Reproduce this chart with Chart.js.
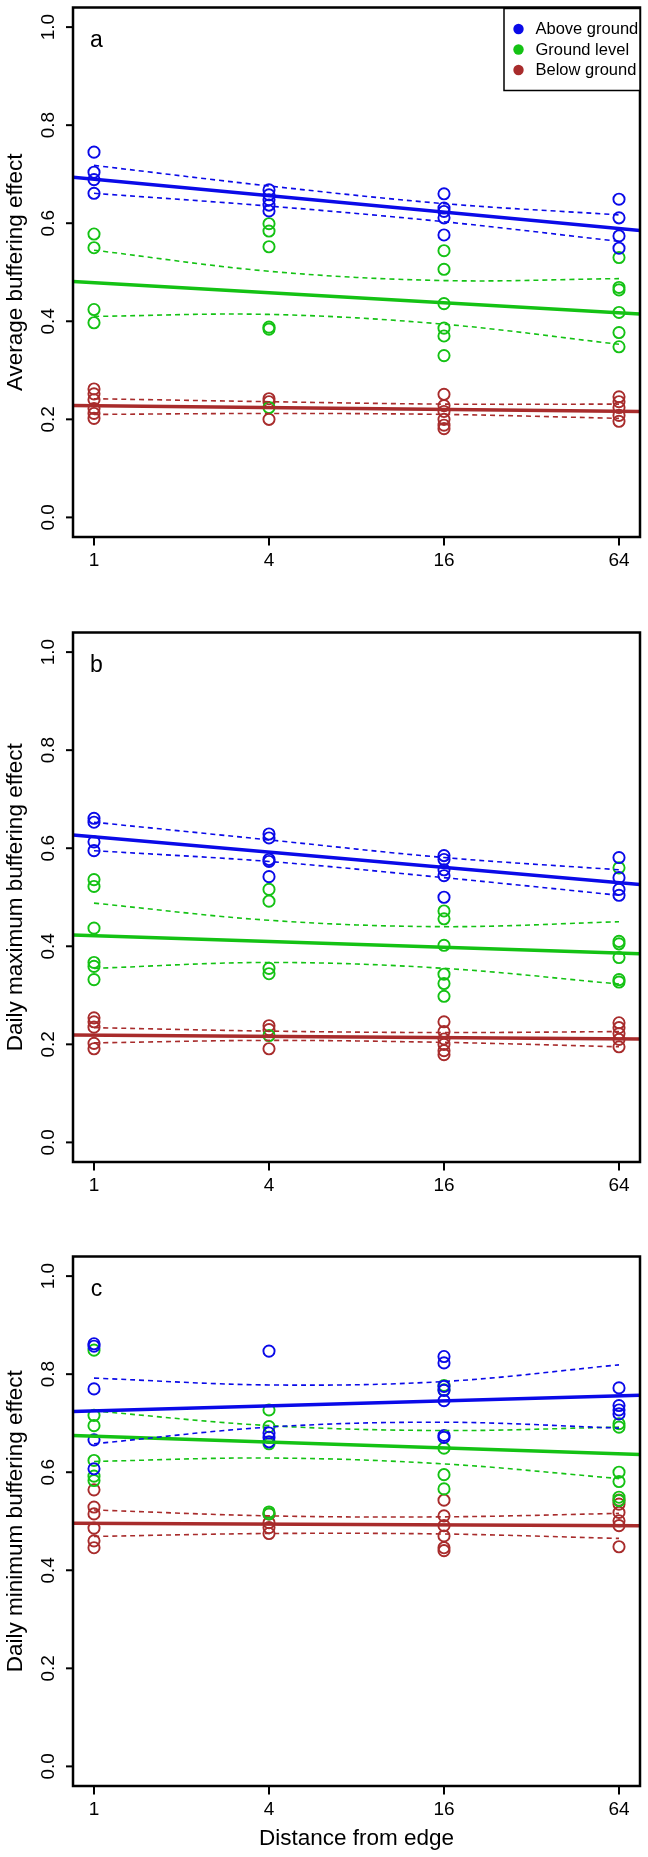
<!DOCTYPE html>
<html>
<head>
<meta charset="utf-8">
<script src="https://cdn.jsdelivr.net/npm/chart.js@4"></script>
<style>
  html, body { margin: 0; padding: 0; background: #ffffff; }
  body { width: 648px; height: 1857px; position: relative; overflow: hidden; }
  canvas { position: absolute; left: 0; }
</style>
</head>
<body>
<canvas id="pa" width="648" height="625" style="top:0px"></canvas>
<canvas id="pb" width="648" height="624" style="top:625px"></canvas>
<canvas id="pc" width="648" height="608" style="top:1249px"></canvas>
<script>
// ---------------- DATA ----------------
const distances = [1, 4, 16, 64];
const xTickLabels = ['1', '4', '16', '64'];
const yTicks = [0.0, 0.2, 0.4, 0.6, 0.8, 1.0];
const yTickLabels = ['0.0', '0.2', '0.4', '0.6', '0.8', '1.0'];
const seriesNames = ['Above ground', 'Ground level', 'Below ground'];

// Panel a: Average buffering effect (observations per distance)
const avgAbove = [[0.745, 0.704, 0.689, 0.661], [0.668, 0.658, 0.648, 0.637, 0.625], [0.660, 0.631, 0.624, 0.611, 0.576], [0.649, 0.611, 0.574, 0.549]];
const avgGround = [[0.578, 0.550, 0.424, 0.397], [0.599, 0.584, 0.552, 0.388, 0.384, 0.224], [0.544, 0.506, 0.436, 0.386, 0.370, 0.330], [0.530, 0.469, 0.464, 0.418, 0.377, 0.348]];
const avgBelow = [[0.262, 0.252, 0.240, 0.222, 0.212, 0.202], [0.242, 0.236, 0.200], [0.251, 0.228, 0.216, 0.200, 0.188, 0.181], [0.246, 0.236, 0.224, 0.208, 0.196]];
// fitted line values at the left and right plot limits
const avgFitAbove = [0.694, 0.585];
const avgFitGround = [0.481, 0.415];
const avgFitBelow = [0.228, 0.216];
// confidence bands at the four distances
const avgUpAbove = [0.718, 0.676, 0.640, 0.617];
const avgLoAbove = [0.661, 0.635, 0.603, 0.563];
const avgUpGround = [0.545, 0.502, 0.483, 0.487];
const avgLoGround = [0.410, 0.414, 0.394, 0.353];
const avgUpBelow = [0.242, 0.236, 0.231, 0.231];
const avgLoBelow = [0.210, 0.212, 0.210, 0.202];

// Panel b: Daily maximum buffering effect
const maxAbove = [[0.661, 0.653, 0.613, 0.595], [0.629, 0.621, 0.577, 0.573, 0.542], [0.585, 0.577, 0.556, 0.544, 0.500], [0.581, 0.540, 0.516, 0.504]];
const maxGround = [[0.536, 0.522, 0.437, 0.367, 0.359, 0.332], [0.516, 0.492, 0.355, 0.344, 0.218], [0.472, 0.456, 0.402, 0.343, 0.324, 0.298], [0.560, 0.410, 0.405, 0.377, 0.332, 0.327]];
const maxBelow = [[0.254, 0.246, 0.235, 0.202, 0.191], [0.238, 0.230, 0.191], [0.246, 0.226, 0.211, 0.200, 0.187, 0.179], [0.244, 0.234, 0.222, 0.210, 0.195]];
const maxFitAbove = [0.627, 0.526];
const maxFitGround = [0.423, 0.385];
const maxFitBelow = [0.219, 0.211];
const maxUpAbove = [0.653, 0.617, 0.581, 0.556];
const maxLoAbove = [0.595, 0.573, 0.540, 0.504];
const maxUpGround = [0.488, 0.453, 0.440, 0.450];
const maxLoGround = [0.355, 0.367, 0.355, 0.323];
const maxUpBelow = [0.234, 0.227, 0.224, 0.226];
const maxLoBelow = [0.203, 0.208, 0.204, 0.195];

// Panel c: Daily minimum buffering effect
const minAbove = [[0.862, 0.857, 0.770, 0.666, 0.607], [0.847, 0.680, 0.671, 0.662], [0.836, 0.823, 0.775, 0.767, 0.746, 0.675, 0.671], [0.772, 0.736, 0.727, 0.719]];
const minGround = [[0.849, 0.716, 0.695, 0.624, 0.592, 0.583], [0.727, 0.693, 0.658, 0.519, 0.515], [0.777, 0.768, 0.649, 0.595, 0.566], [0.699, 0.692, 0.600, 0.581, 0.549, 0.542]];
const minBelow = [[0.564, 0.529, 0.515, 0.486, 0.460, 0.446], [0.515, 0.497, 0.487, 0.475], [0.543, 0.511, 0.491, 0.470, 0.446, 0.440], [0.543, 0.535, 0.518, 0.501, 0.491, 0.448]];
const minFitAbove = [0.724, 0.757];
const minFitGround = [0.675, 0.636];
const minFitBelow = [0.496, 0.491];
const minUpAbove = [0.792, 0.778, 0.785, 0.819];
const minLoAbove = [0.658, 0.692, 0.702, 0.690];
const minUpGround = [0.725, 0.695, 0.685, 0.692];
const minLoGround = [0.622, 0.629, 0.617, 0.587];
const minUpBelow = [0.523, 0.511, 0.509, 0.516];
const minLoBelow = [0.469, 0.475, 0.474, 0.465];

// ---------------- STYLE ----------------
const COLORS = ['#0a0ae8', '#14c214', '#a82c2c'];
const FONT = '"Liberation Sans", Arial, Helvetica, sans-serif';
const X_MIN = Math.pow(2, -0.24);
const X_MAX = Math.pow(2, 6.24);
const Y_MIN = -0.04, Y_MAX = 1.04;

function rPlotPlugin(opts) {
  return {
    id: 'rplot_' + opts.letter,
    afterDraw(chart) {
      const { ctx, chartArea: ca, scales } = chart;
      const xs = scales.x, ys = scales.y;
      ctx.save();
      ctx.fillStyle = '#000';
      ctx.strokeStyle = '#000';
      // frame
      ctx.lineWidth = 2.5;
      ctx.strokeRect(ca.left, ca.top, ca.right - ca.left, ca.bottom - ca.top);
      // y ticks
      ctx.lineWidth = 2;
      ctx.font = '19px ' + FONT;
      yTicks.forEach((v, i) => {
        const py = ys.getPixelForValue(v);
        ctx.beginPath(); ctx.moveTo(ca.left - 7, py); ctx.lineTo(ca.left, py); ctx.stroke();
        ctx.save();
        ctx.translate(ca.left - 19.5, py);
        ctx.rotate(-Math.PI / 2);
        ctx.textAlign = 'center'; ctx.textBaseline = 'alphabetic';
        ctx.fillText(yTickLabels[i], 0, 0);
        ctx.restore();
      });
      // x ticks
      distances.forEach((d, i) => {
        const px = xs.getPixelForValue(d);
        ctx.beginPath(); ctx.moveTo(px, ca.bottom); ctx.lineTo(px, ca.bottom + 8.5); ctx.stroke();
        ctx.textAlign = 'center'; ctx.textBaseline = 'alphabetic';
        ctx.fillText(xTickLabels[i], px, ca.bottom + 29);
      });
      // y title
      ctx.font = '22.5px ' + FONT;
      ctx.save();
      ctx.translate(ca.left - 51, (ca.top + ca.bottom) / 2);
      ctx.rotate(-Math.PI / 2);
      ctx.textAlign = 'center'; ctx.textBaseline = 'alphabetic';
      ctx.fillText(opts.ytitle, 0, 0);
      ctx.restore();
      // x title
      if (opts.xtitle) {
        ctx.textAlign = 'center'; ctx.textBaseline = 'alphabetic';
        ctx.fillText(opts.xtitle, (ca.left + ca.right) / 2, ca.bottom + 58.5);
      }
      // panel letter
      ctx.font = '23px ' + FONT;
      ctx.textAlign = 'center'; ctx.textBaseline = 'alphabetic';
      ctx.fillText(opts.letter, ca.left + 23.5, ca.top + 39.5);
      // legend
      if (opts.legend) {
        const lw = 136, lh = 82;
        const lx = ca.right - lw, ly = ca.top + 1;
        ctx.fillStyle = '#fff';
        ctx.fillRect(lx, ly, lw, lh);
        ctx.lineWidth = 1.5;
        ctx.strokeStyle = '#000';
        ctx.strokeRect(lx, ly, lw, lh);
        ctx.font = '16.5px ' + FONT;
        ctx.textAlign = 'left'; ctx.textBaseline = 'middle';
        seriesNames.forEach((nm, i) => {
          const cy = ly + 20.5 + i * 20.5;
          ctx.fillStyle = COLORS[i];
          ctx.beginPath(); ctx.arc(lx + 14.5, cy, 5.2, 0, Math.PI * 2); ctx.fill();
          ctx.fillStyle = '#000';
          ctx.fillText(nm, lx + 31.5, cy + 0.5);
        });
      }
      ctx.restore();
    }
  };
}

function makePanel(id, opts, canvasH) {
  const datasets = [];
  opts.series.forEach((s, si) => {
    const color = COLORS[si];
    datasets.push({
      label: seriesNames[si] + ' fit',
      data: [{ x: X_MIN, y: s.fit[0] }, { x: X_MAX, y: s.fit[1] }],
      showLine: true, borderColor: color, borderWidth: 3.5, pointRadius: 0,
      order: 1 + si
    });
    [s.up, s.lo].forEach((band, bi) => {
      datasets.push({
        label: seriesNames[si] + (bi ? ' lower' : ' upper'),
        data: distances.map((d, i) => ({ x: d, y: band[i] })),
        showLine: true, borderColor: color, borderWidth: 1.6, borderDash: [5, 4],
        pointRadius: 0, tension: 0.35, order: 1 + si
      });
    });
    datasets.push({
      label: seriesNames[si],
      data: distances.flatMap((d, i) => s.pts[i].map(v => ({ x: d, y: v }))),
      showLine: false, borderColor: color, backgroundColor: 'rgba(0,0,0,0)',
      pointRadius: 5.6, pointBorderWidth: 1.9, pointStyle: 'circle',
      order: 10 + si
    });
  });
  new Chart(document.getElementById(id), {
    type: 'scatter',
    data: { datasets },
    options: {
      responsive: false, animation: false, events: [], devicePixelRatio: 1,
      layout: { padding: { left: 73, right: 8, top: 7, bottom: canvasH - 537 } },
      scales: {
        x: { type: 'logarithmic', min: X_MIN, max: X_MAX, display: false },
        y: { type: 'linear', min: Y_MIN, max: Y_MAX, display: false }
      },
      plugins: { legend: { display: false }, tooltip: { enabled: false } }
    },
    plugins: [rPlotPlugin(opts)]
  });
}

makePanel('pa', {
  letter: 'a', ytitle: 'Average buffering effect', legend: true,
  series: [
    { pts: avgAbove, fit: avgFitAbove, up: avgUpAbove, lo: avgLoAbove },
    { pts: avgGround, fit: avgFitGround, up: avgUpGround, lo: avgLoGround },
    { pts: avgBelow, fit: avgFitBelow, up: avgUpBelow, lo: avgLoBelow }
  ]
}, 625);

makePanel('pb', {
  letter: 'b', ytitle: 'Daily maximum buffering effect',
  series: [
    { pts: maxAbove, fit: maxFitAbove, up: maxUpAbove, lo: maxLoAbove },
    { pts: maxGround, fit: maxFitGround, up: maxUpGround, lo: maxLoGround },
    { pts: maxBelow, fit: maxFitBelow, up: maxUpBelow, lo: maxLoBelow }
  ]
}, 624);

makePanel('pc', {
  letter: 'c', ytitle: 'Daily minimum buffering effect', xtitle: 'Distance from edge',
  series: [
    { pts: minAbove, fit: minFitAbove, up: minUpAbove, lo: minLoAbove },
    { pts: minGround, fit: minFitGround, up: minUpGround, lo: minLoGround },
    { pts: minBelow, fit: minFitBelow, up: minUpBelow, lo: minLoBelow }
  ]
}, 608);
</script>
</body>
</html>
